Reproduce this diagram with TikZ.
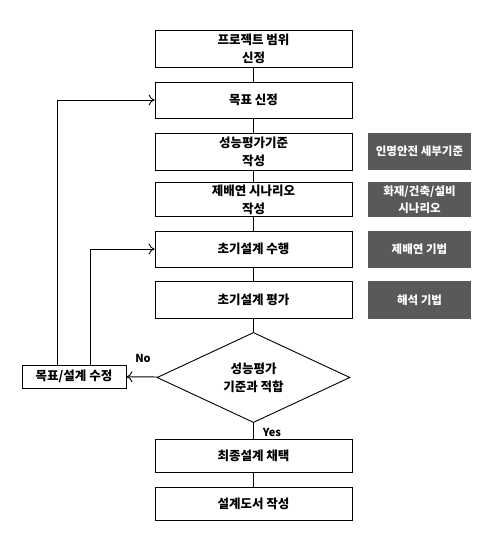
\documentclass[tikz,border=0pt]{standalone}
\usepackage{fontspec}
\newfontfamily\kr{Noto Sans CJK KR}
\usetikzlibrary{shapes.geometric,arrows.meta}
\definecolor{tagfill}{HTML}{595959}

\begin{document}
\begin{tikzpicture}[x=1pt,y=-1pt,
    line width=0.9pt,
    >={To[length=6pt,width=11pt]},
    every node/.style={font=\kr\bfseries\fontsize{12.5}{18}\selectfont},
    step box/.style={draw,rectangle,minimum width=197pt,minimum height=37pt,inner sep=0pt,align=center},
    tag box/.style={fill=tagfill,text=white,minimum width=103pt,inner sep=0pt,align=center,font=\kr\bfseries\fontsize{11.5}{17}\selectfont},
    check/.style={draw,diamond,minimum width=193pt,minimum height=89pt,inner sep=0pt,align=center}]
        \useasboundingbox (0,0) rectangle (491,541);
        % main flow
        \node [step box] (scope) at (253.5,48.5) {프로젝트 범위\\신정};
        \node [step box,minimum height=36pt] (goal) at (253.5,100) {목표 신정};
        \node [step box] (crit) at (253.5,151.5) {성능평가기준\\작성};
        \node [step box,minimum height=34pt] (scen) at (253.5,199.5) {제배연 시나리오\\작성};
        \node [step box,minimum height=36pt] (draft) at (253.5,249) {초기설계 수행};
        \node [step box] (eval) at (253.5,299.5) {초기설계 평가};
        \node [check] (ok) at (253.5,377.5) {성능평가\\기준과 적합};
        \node [step box,minimum height=33pt] (final) at (253.5,455.5) {최종설계 채택};
        \node [step box,minimum height=33pt] (doc) at (253.5,503.5) {설계도서 작성};
        \node [draw,rectangle,minimum width=104pt,minimum height=23pt,inner sep=0pt] (fix) at (74,376.5) {목표/설계 수정};
        % side notes
        \node [tag box,minimum height=37pt] (t1) at (419.5,151.5) {인명안전 세부기준};
        \node [tag box,minimum height=35pt] (t2) at (419.5,199.5) {화재/건축/설비\\시나리오};
        \node [tag box,minimum height=37pt] (t3) at (419.5,249.5) {제배연 기법};
        \node [tag box,minimum height=38pt] (t4) at (419.5,300) {해석 기법};
        % links
        \draw (scope) -- (goal);
        \draw (goal) -- (crit);
        \draw (crit) -- (scen);
        \draw (scen) -- (draft);
        \draw (draft) -- (eval);
        \draw (eval) -- (ok);
        \draw (ok) -- (final);
        \draw (final) -- (doc);
        \draw [->] (ok) -- (fix);
        \draw [->] ([xshift=-17pt]fix.north) |- (goal.west);
        \draw [->] ([xshift=16pt]fix.north) |- (draft.west);
        \node [font=\kr\bfseries\fontsize{11}{13}\selectfont] (no) at (143,358) {No};
        \node [font=\kr\bfseries\fontsize{11}{13}\selectfont] (yes) at (272,432) {Yes};
    \end{tikzpicture}
\end{document}
